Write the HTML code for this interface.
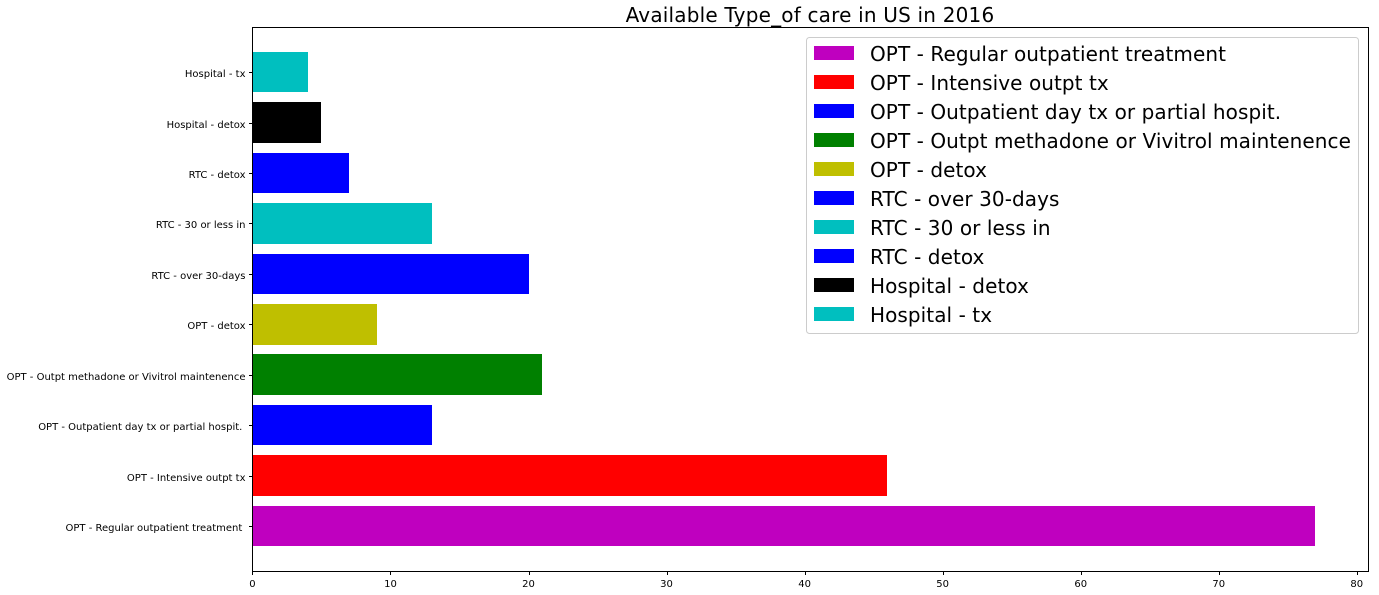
<!DOCTYPE html>
<html>
<head>
<meta charset="utf-8">
<title>Available Type_of care in US in 2016</title>
<style>
html,body{margin:0;padding:0;background:#fff;width:1379px;height:595px;overflow:hidden}
svg{display:block}
text{font-family:"DejaVu Sans",sans-serif;fill:#000;white-space:pre}
</style>
</head>
<body>
<svg id="chart" xmlns="http://www.w3.org/2000/svg" width="1379" height="595" viewBox="0 0 1379 595">
  <rect x="0" y="0" width="1379" height="595" fill="#fff"/>
  <text x="810" y="22" font-size="20" letter-spacing="0.19" text-anchor="middle">Available Type_of care in US in 2016</text>
  <g id="bars" shape-rendering="crispEdges"></g>
  <g id="y-axis"></g>
  <g id="x-axis"></g>
  <rect x="252.5" y="27.5" width="1116" height="544" fill="none" stroke="#000" stroke-width="1"/>
  <g id="legend">
    <rect x="806.5" y="37.5" width="552" height="296" rx="3" ry="3" fill="#fff" fill-opacity="0.8" stroke="#ccc" stroke-width="1"/>
  </g>
</svg>
<script>
const categories = ["OPT - Regular outpatient treatment ", "OPT - Intensive outpt tx", "OPT - Outpatient day tx or partial hospit. ", "OPT - Outpt methadone or Vivitrol maintenence", "OPT - detox", "RTC - over 30-days", "RTC - 30 or less in", "RTC - detox", "Hospital - detox", "Hospital - tx"];
const values = [77, 46, 13, 21, 9, 20, 13, 7, 5, 4];
const barColors = ["#bf00bf", "#ff0000", "#0000ff", "#008000", "#bfbf00", "#0000ff", "#00bfbf", "#0000ff", "#000000", "#00bfbf"];
const xTicks = [0, 10, 20, 30, 40, 50, 60, 70, 80];

const NS = "http://www.w3.org/2000/svg";
const xScale = function (v) { return 252.4 + v * 13.805; };
const yScale = function (i) { return 526 - i * 50.43; };
const BAR_H = 40.5;

function make(tag, attrs, parent, txt) {
  const el = document.createElementNS(NS, tag);
  for (const k in attrs) el.setAttribute(k, attrs[k]);
  if (txt !== undefined) el.textContent = txt;
  parent.appendChild(el);
  return el;
}

const barsG = document.getElementById("bars");
const yG = document.getElementById("y-axis");
const xG = document.getElementById("x-axis");
const legendG = document.getElementById("legend");

categories.forEach(function (cat, i) {
  const y = yScale(i);
  const top = Math.round(y - BAR_H / 2);
  const bottom = Math.round(y + BAR_H / 2);
  const left = Math.round(xScale(0));
  const right = Math.round(xScale(values[i]));
  const bar = make("rect", { x: left, y: top, width: right - left, height: bottom - top, fill: barColors[i] }, barsG);
  
  

  const tickY = Math.round(y) + 0.5;
  const tick = make("line", { x1: 249, x2: 252.5, y1: tickY, y2: tickY, stroke: "#000", "stroke-width": 1 }, yG);
  
  

  const label = make("text", { x: 245.5, y: Math.round(y) + 5, "font-size": 10, "text-anchor": "end" }, yG, cat);
  
  

  const swatch = make("rect", { x: 814, y: 46 + i * 29, width: 40, height: 14, fill: barColors[i] }, legendG);
  
  

  const entry = make("text", { x: 870, y: 61 + i * 29, "font-size": 20, "letter-spacing": 0.07 }, legendG, cat.trim());
  
  
});

xTicks.forEach(function (t) {
  const x = Math.round(xScale(t)) + 0.5;
  const tick = make("line", { x1: x, x2: x, y1: 571.5, y2: 575, stroke: "#000", "stroke-width": 1 }, xG);
  
  

  const label = make("text", { x: xScale(t), y: 587, "font-size": 10, "text-anchor": "middle" }, xG, String(t));
  
  
});
</script>
</body>
</html>
